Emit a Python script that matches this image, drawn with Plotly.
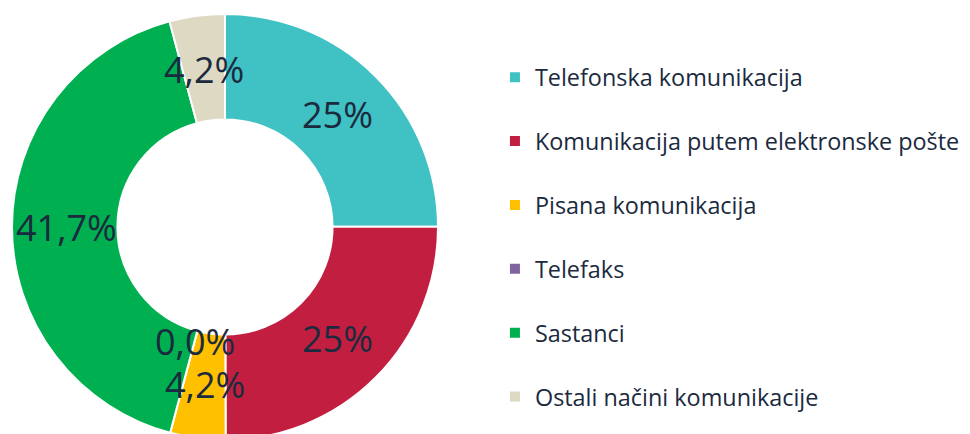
import math
import plotly.graph_objects as go

categories = [
    "Telefonska komunikacija",
    "Komunikacija putem elektronske pošte",
    "Pisana komunikacija",
    "Telefaks",
    "Sastanci",
    "Ostali načini komunikacije",
]
values = [25, 25, 4.2, 0, 41.7, 4.2]
value_labels = ["25%", "25%", "4,2%", "0,0%", "41,7%", "4,2%"]
colors = ["#40C1C4", "#C21F40", "#FFC000", "#8064A2", "#00B050", "#DDD9C3"]

W, H = 970, 434
TEXT = "#1B2A3E"
FONT = "Open Sans"

# pie geometry (pixels, figure coordinates)
cx, cy, R = 217, 219, 213
hole = 0.505

fig = go.Figure()
fig.add_trace(go.Pie(
    labels=[" <br>" + c for c in categories],
    values=values,
    sort=False,
    direction="clockwise",
    rotation=0,
    hole=hole,
    marker=dict(colors=colors, line=dict(color="white", width=2)),
    textinfo="none",
    hoverinfo="percent",
    domain=dict(x=[(cx - R) / W, (cx + R) / W], y=[(H - cy - R) / H, (H - cy + R) / H]),
    showlegend=True,
))

# value labels placed at the middle of each ring segment
total = sum(values)
cum = 0.0
annotations = []
for v, lab in zip(values, value_labels):
    mid = (cum + v / 2) / total * 2 * math.pi
    cum += v
    r = R * (0.745 if v > 0 else 0.555)
    x = (cx + r * math.sin(mid)) / W
    y = (H - cy + r * math.cos(mid)) / H
    annotations.append(dict(
        x=x, y=y, xref="paper", yref="paper", text=lab, showarrow=False,
        font=dict(family=FONT, size=36, color=TEXT), xanchor="center", yanchor="middle",
    ))

fig.update_layout(
    width=W, height=H,
    margin=dict(l=0, r=0, t=0, b=0, autoexpand=False),
    paper_bgcolor="white", plot_bgcolor="white",
    annotations=annotations,
    legend=dict(
        x=0.502, y=0.9605, xanchor="left", yanchor="top",
        font=dict(family=FONT, size=23.4, color=TEXT),
        valign="bottom", bgcolor="rgba(0,0,0,0)",
    ),
)

fig.write_html("out.html")
